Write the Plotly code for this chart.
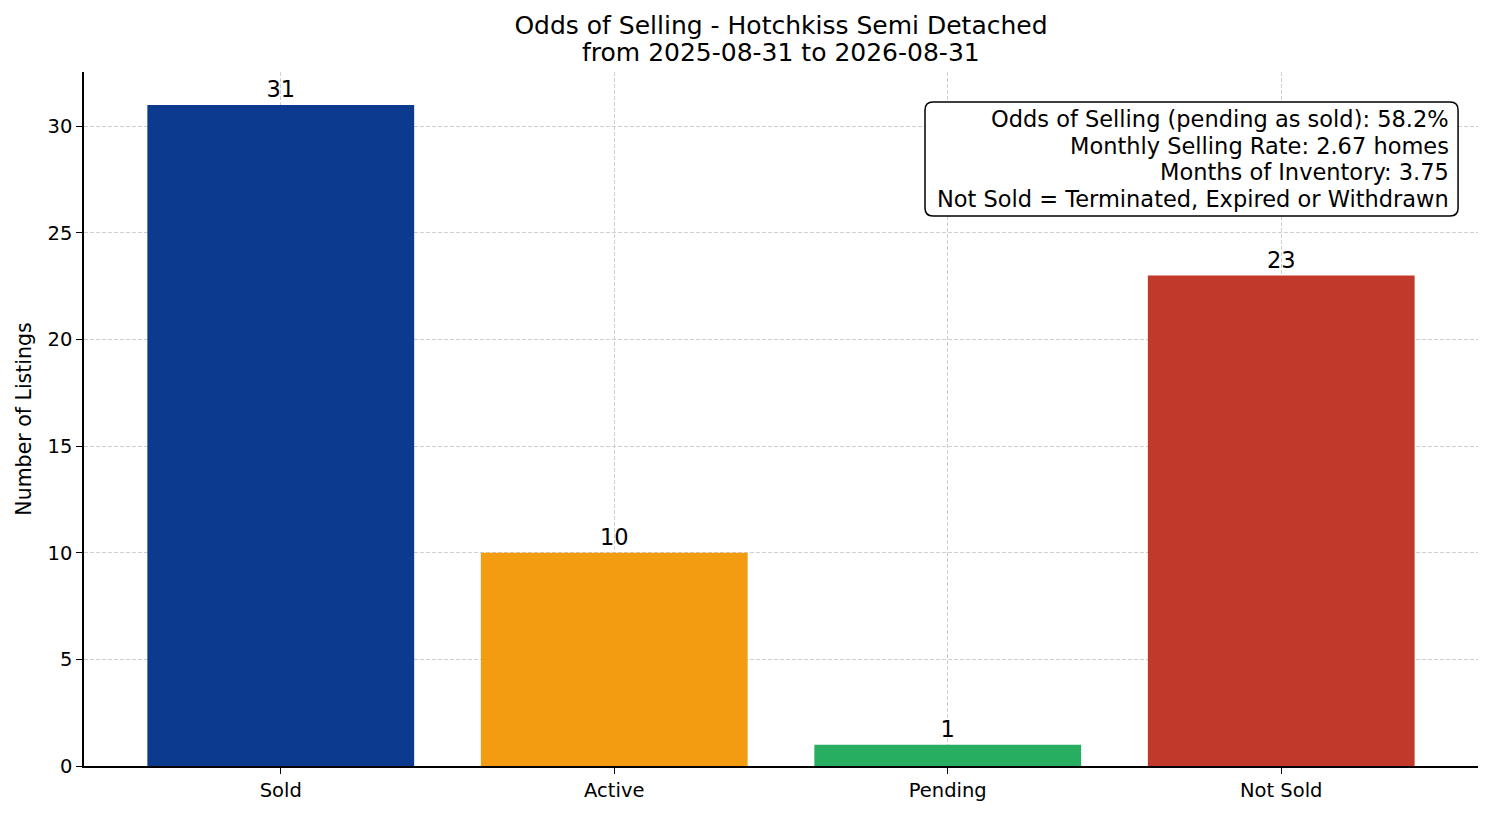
import plotly.graph_objects as go

# data
categories = ["Sold", "Active", "Pending", "Not Sold"]
counts = [31, 10, 1, 23]
colors = ["#0b3a8f", "#f39c12", "#27ae60", "#c0392b"]

odds_pct = 58.2
monthly_rate = 2.67
months_inventory = 3.75
date_from = "2025-08-31"
date_to = "2026-08-31"

info_lines = [
    "Odds of Selling (pending as sold): %.1f%%" % odds_pct,
    "Monthly Selling Rate: %.2f homes" % monthly_rate,
    "Months of Inventory: %.2f" % months_inventory,
    "Not Sold = Terminated, Expired or Withdrawn",
]

FONT = "DejaVu Sans"

fig = go.Figure()
fig.add_trace(go.Bar(
    x=categories, y=counts,
    marker=dict(color=colors, line=dict(width=0)),
    width=0.8,
    text=[str(c) for c in counts],
    textposition="outside",
    textfont=dict(family=FONT, size=22.5, color="black"),
    cliponaxis=False,
))

# info box (rounded rect in paper coords)
x0, x1, y0, y1 = 0.6033, 0.9857, 0.7925, 0.9568
rx, ry = 8 / 1394, 8 / 694
path = (f"M {x0+rx},{y0} L {x1-rx},{y0} Q {x1},{y0} {x1},{y0+ry} "
        f"L {x1},{y1-ry} Q {x1},{y1} {x1-rx},{y1} "
        f"L {x0+rx},{y1} Q {x0},{y1} {x0},{y1-ry} "
        f"L {x0},{y0+ry} Q {x0},{y0} {x0+rx},{y0} Z")
fig.add_shape(type="path", path=path, xref="paper", yref="paper",
              line=dict(color="black", width=1.5), fillcolor="white", layer="above")

line_y = [0.9323, 0.8934, 0.8559, 0.8170]
for txt, yy in zip(info_lines, line_y):
    fig.add_annotation(text=txt, xref="paper", yref="paper", x=0.9806, y=yy,
                       xanchor="right", yanchor="middle", showarrow=False,
                       font=dict(family=FONT, size=22.5, color="black"))

# second title line, tighter spacing than plotly's <br>
fig.add_annotation(text=f"from {date_from} to {date_to}", xref="paper", yref="paper",
                   x=0.5, y=1.0274, xanchor="center", yanchor="middle", showarrow=False,
                   font=dict(family=FONT, size=25, color="black"))

fig.update_layout(
    width=1494, height=816,
    margin=dict(l=76, r=24, t=64, b=58),
    plot_bgcolor="white", paper_bgcolor="white",
    font=dict(family=FONT, color="black"),
    showlegend=False,
    title=dict(text="Odds of Selling - Hotchkiss Semi Detached",
               x=0.5, xref="paper", xanchor="center",
               y=1, yref="paper", yanchor="bottom", pad=dict(b=38),
               font=dict(family=FONT, size=25, color="black")),
)
fig.update_xaxes(
    range=[-0.59, 3.59], showline=True, linecolor="black", linewidth=1.5,
    ticks="outside", ticklen=6, tickcolor="black", tickwidth=1.2,
    tickfont=dict(size=19.5), showgrid=True, gridcolor="#cfcfcf", griddash="4px,2px",
    gridwidth=0.8, layer="above traces", zeroline=False, automargin=False,
)
fig.update_yaxes(
    range=[0, 32.55], tickvals=[0, 5, 10, 15, 20, 25, 30],
    showline=True, linecolor="black", linewidth=1.5,
    ticks="outside", ticklen=6, tickcolor="black", tickwidth=1.2,
    tickfont=dict(size=19.5), showgrid=True, gridcolor="#cfcfcf", griddash="4px,2px",
    gridwidth=0.8, layer="above traces", zeroline=False, automargin=False,
    title=dict(text="Number of Listings", font=dict(size=20.5), standoff=10),
)

fig.write_html("out.html")
